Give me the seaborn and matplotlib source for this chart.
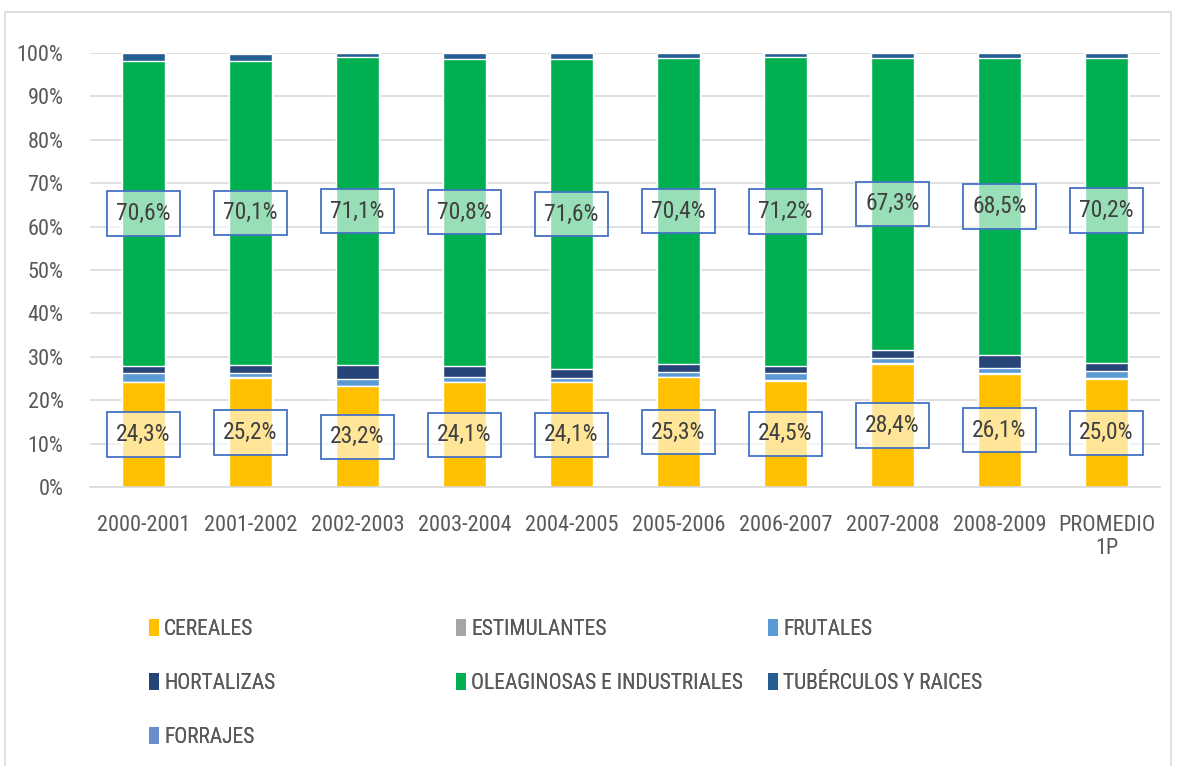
import numpy as np
import pandas as pd
import matplotlib
matplotlib.use("Agg")
import matplotlib.pyplot as plt
from matplotlib.patches import Rectangle, Patch
from matplotlib.ticker import PercentFormatter
from matplotlib import font_manager
import seaborn as sns

# periods on the x axis
periodos = ["2000-2001", "2001-2002", "2002-2003", "2003-2004", "2004-2005",
            "2005-2006", "2006-2007", "2007-2008", "2008-2009", "PROMEDIO\n1P"]

# share of each crop group (%), bottom to top of the stack
cereales = [24.3, 25.2, 23.2, 24.1, 24.1, 25.3, 24.5, 28.4, 26.1, 25.0]
estimulantes = [0.1, 0.1, 0.1, 0.1, 0.1, 0.1, 0.1, 0.1, 0.1, 0.1]
frutales = [1.9, 1.1, 1.6, 1.2, 1.0, 1.2, 1.6, 1.2, 1.2, 1.7]
hortalizas = [1.7, 1.8, 3.1, 2.5, 1.9, 1.8, 1.7, 1.9, 3.0, 1.8]
oleaginosas = [70.6, 70.1, 71.1, 70.8, 71.6, 70.4, 71.2, 67.3, 68.5, 70.2]
tuberculos = [1.7, 1.5, 0.8, 1.2, 1.2, 1.1, 0.8, 1.0, 1.0, 1.1]
forrajes = [0.1, 0.3, 0.1, 0.1, 0.1, 0.1, 0.1, 0.1, 0.1, 0.1]

grupos = ["CEREALES", "ESTIMULANTES", "FRUTALES", "HORTALIZAS",
          "OLEAGINOSAS E INDUSTRIALES", "TUBÉRCULOS Y RAICES", "FORRAJES"]
colores = ["#FFC000", "#A5A5A5", "#5B9BD5", "#264478", "#00B050", "#255E91", "#698ED0"]

df = pd.DataFrame({
    "periodo": periodos,
    "CEREALES": cereales,
    "ESTIMULANTES": estimulantes,
    "FRUTALES": frutales,
    "HORTALIZAS": hortalizas,
    "OLEAGINOSAS E INDUSTRIALES": oleaginosas,
    "TUBÉRCULOS Y RAICES": tuberculos,
    "FORRAJES": forrajes,
})

# normalise to 100% and cumulate
vals = df[grupos].div(df[grupos].sum(axis=1), axis=0) * 100
acum = vals.cumsum(axis=1)

sns.set_theme(style="white")
# pick a narrow face if one is around, like the Calibri look of the original
disponibles = {f.name for f in font_manager.fontManager.ttflist}
narrow = [f for f in ["Liberation Sans Narrow", "DejaVu Sans Condensed", "Roboto Condensed"]
          if f in disponibles]
plt.rcParams["font.family"] = narrow[:1] + ["DejaVu Sans"]
if not narrow:
    plt.rcParams["font.stretch"] = "condensed"
gris = "#595959"

fig = plt.figure(figsize=(11.77, 7.66), dpi=100)
ax = fig.add_axes([90 / 1177, 1 - 487 / 766, 1070 / 1177, 434 / 766])

# draw the cumulative totals from top to bottom so lower layers overlay
for g, c in reversed(list(zip(grupos, colores))):
    sns.barplot(x=df["periodo"], y=acum[g], color=c, width=0.41,
                saturation=1, ax=ax, zorder=2)

ax.set_xlim(-0.5, len(periodos) - 0.5)
ax.set_ylim(0, 100)
ax.set_yticks(np.arange(0, 101, 10))
ax.yaxis.set_major_formatter(PercentFormatter(decimals=0))
ax.grid(axis="y", color="#d9d9d9", linewidth=1.2, zorder=0)
ax.set_axisbelow(True)
for s in ["top", "right", "left"]:
    ax.spines[s].set_visible(False)
ax.spines["bottom"].set_color("#d9d9d9")
ax.spines["bottom"].set_linewidth(1.2)
ax.set_xlabel("")
ax.set_ylabel("")
ax.tick_params(axis="both", length=0, labelsize=16, colors=gris)
ax.tick_params(axis="x", pad=20)
ax.tick_params(axis="y", pad=19)
for lab in ax.get_xticklabels():
    lab.set_linespacing(1.15)

# boxed data labels for cereales and oleaginosas
def etiqueta(centros, textos):
    for i, (yc, t) in enumerate(zip(centros, textos)):
        ax.add_patch(Rectangle((i - 0.34, yc - 5.1), 0.68, 10.2,
                               facecolor="white", alpha=0.6, edgecolor="none", zorder=3))
        ax.add_patch(Rectangle((i - 0.34, yc - 5.1), 0.68, 10.2,
                               facecolor="none", edgecolor="#4472C4", linewidth=1.3, zorder=4))
        ax.text(i, yc, t, ha="center", va="center", fontsize=17, color="#404040", zorder=5)

base_ole = acum["HORTALIZAS"]
etiqueta(vals["CEREALES"] / 2, [f"{v:.1f}%".replace(".", ",") for v in cereales])
etiqueta(base_ole + vals["OLEAGINOSAS E INDUSTRIALES"] / 2,
         [f"{v:.1f}%".replace(".", ",") for v in oleaginosas])

# legend laid out in three equal columns like the original
columnas = [[0, 3, 6], [1, 4], [2, 5]]
xs = [149 / 1177, 456 / 1177, 768 / 1177]
for col, x0 in zip(columnas, xs):
    handles = [Patch(facecolor=colores[k], edgecolor="none") for k in col]
    leg = fig.legend(handles, [grupos[k] for k in col], loc="upper left",
                     bbox_to_anchor=(x0, 1 - 619 / 766), frameon=False,
                     fontsize=15.5, labelcolor=gris, handlelength=0.45,
                     handleheight=0.8, handletextpad=0.25, labelspacing=1.53,
                     borderpad=0, borderaxespad=0)
    fig.add_artist(leg)

# outer chart frame
fig.add_artist(Rectangle((5 / 1177, -0.01), 1166 / 1177, 1 - 12 / 766 + 0.01,
                         transform=fig.transFigure, facecolor="none",
                         edgecolor="#d9d9d9", linewidth=1.2))

fig.savefig("out.png", dpi=100)
